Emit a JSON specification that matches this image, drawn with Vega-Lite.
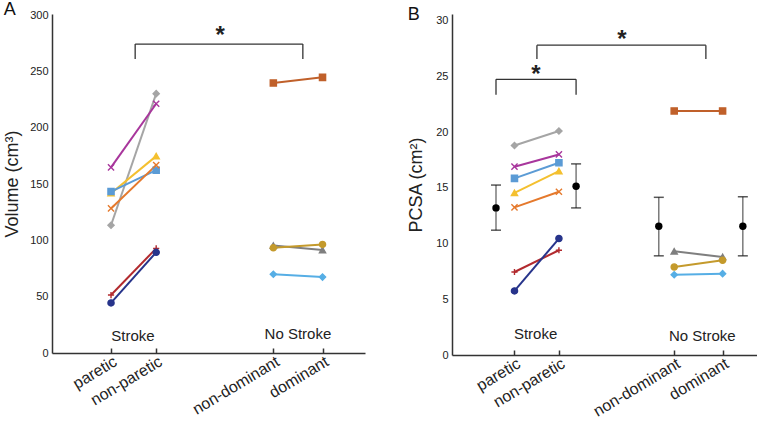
{
  "$schema": "https://vega.github.io/schema/vega-lite/v6.json",
  "padding": {"left": 3, "top": 1, "right": 0, "bottom": 0},
  "spacing": 42,
  "config": {
    "font": "Liberation Sans",
    "view": {"stroke": null},
    "axis": {"grid": false, "domainColor": "#333", "domainWidth": 1.5, "labelColor": "#222", "titleColor": "#222", "labelFont": "Liberation Sans", "titleFont": "Liberation Sans"},
    "title": {"font": "Liberation Sans", "fontWeight": "normal", "fontSize": 18, "color": "#111"}
  },
  "datasets": {
    "limbs": [
      {"limb": "paretic", "x": 1.32},
      {"limb": "non-paretic", "x": 2.33},
      {"limb": "non-dominant", "x": 4.95},
      {"limb": "dominant", "x": 6.05}
    ],
    "volume": [
      {"series": "S1", "limb": "paretic", "v": 113.5},
      {"series": "S1", "limb": "non-paretic", "v": 230.5},
      {"series": "S2", "limb": "paretic", "v": 165},
      {"series": "S2", "limb": "non-paretic", "v": 221.5},
      {"series": "S3", "limb": "paretic", "v": 142},
      {"series": "S3", "limb": "non-paretic", "v": 175},
      {"series": "S4", "limb": "paretic", "v": 143.5},
      {"series": "S4", "limb": "non-paretic", "v": 162.5},
      {"series": "S5", "limb": "paretic", "v": 128.5},
      {"series": "S5", "limb": "non-paretic", "v": 167},
      {"series": "S6", "limb": "paretic", "v": 51.5},
      {"series": "S6", "limb": "non-paretic", "v": 93},
      {"series": "S7", "limb": "paretic", "v": 44.5},
      {"series": "S7", "limb": "non-paretic", "v": 89.5},
      {"series": "C1", "limb": "non-dominant", "v": 240},
      {"series": "C1", "limb": "dominant", "v": 245},
      {"series": "C2", "limb": "non-dominant", "v": 95.5},
      {"series": "C2", "limb": "dominant", "v": 91.5},
      {"series": "C3", "limb": "non-dominant", "v": 93.5},
      {"series": "C3", "limb": "dominant", "v": 96.5},
      {"series": "C4", "limb": "non-dominant", "v": 70},
      {"series": "C4", "limb": "dominant", "v": 67.5}
    ],
    "pcsa": [
      {"series": "S1", "limb": "paretic", "v": 18.8},
      {"series": "S1", "limb": "non-paretic", "v": 20.1},
      {"series": "S2", "limb": "paretic", "v": 16.9},
      {"series": "S2", "limb": "non-paretic", "v": 18.0},
      {"series": "S3", "limb": "paretic", "v": 14.55},
      {"series": "S3", "limb": "non-paretic", "v": 16.5},
      {"series": "S4", "limb": "paretic", "v": 15.85},
      {"series": "S4", "limb": "non-paretic", "v": 17.25},
      {"series": "S5", "limb": "paretic", "v": 13.25},
      {"series": "S5", "limb": "non-paretic", "v": 14.65},
      {"series": "S6", "limb": "paretic", "v": 7.45},
      {"series": "S6", "limb": "non-paretic", "v": 9.4},
      {"series": "S7", "limb": "paretic", "v": 5.75},
      {"series": "S7", "limb": "non-paretic", "v": 10.45},
      {"series": "C1", "limb": "non-dominant", "v": 21.9},
      {"series": "C1", "limb": "dominant", "v": 21.9},
      {"series": "C2", "limb": "non-dominant", "v": 9.3},
      {"series": "C2", "limb": "dominant", "v": 8.8},
      {"series": "C3", "limb": "non-dominant", "v": 7.9},
      {"series": "C3", "limb": "dominant", "v": 8.5},
      {"series": "C4", "limb": "non-dominant", "v": 7.2},
      {"series": "C4", "limb": "dominant", "v": 7.3}
    ],
    "errB": [
      {"pos": 0.9, "mean": 13.2, "lo": 11.2, "hi": 15.25},
      {"pos": 2.72, "mean": 15.15, "lo": 13.2, "hi": 17.15},
      {"pos": 4.6, "mean": 11.55, "lo": 8.9, "hi": 14.15},
      {"pos": 6.51, "mean": 11.55, "lo": 8.9, "hi": 14.2}
    ],
    "bracketA": [
      {"x": 1.86, "x2": 5.61, "y": 274.6, "y2": 274.6},
      {"x": 1.86, "x2": 1.86, "y": 274.6, "y2": 261.3},
      {"x": 5.61, "x2": 5.61, "y": 274.6, "y2": 261.3}
    ],
    "bracketB": [
      {"x": 1.83, "x2": 5.67, "y": 27.8, "y2": 27.8},
      {"x": 1.83, "x2": 1.83, "y": 27.8, "y2": 26.56},
      {"x": 5.67, "x2": 5.67, "y": 27.8, "y2": 26.56},
      {"x": 0.9, "x2": 2.72, "y": 24.74, "y2": 24.74},
      {"x": 0.9, "x2": 0.9, "y": 24.74, "y2": 23.36},
      {"x": 2.72, "x2": 2.72, "y": 24.74, "y2": 23.36}
    ],
    "starsA": [{"x": 3.76, "y": 275.5, "t": "*"}],
    "starsB": [{"x": 3.76, "y": 27.65, "t": "*"}, {"x": 1.81, "y": 24.5, "t": "*"}],
    "groupsA": [{"x": 1.81, "y": 10.9, "t": "Stroke"}, {"x": 5.5, "y": 12.4, "t": "No Stroke"}],
    "groupsB": [{"x": 1.8, "y": 1.44, "t": "Stroke"}, {"x": 5.59, "y": 1.28, "t": "No Stroke"}]
  },
  "hconcat": [
    {
      "width": 313,
      "height": 339,
      "title": {"text": "A", "anchor": "start", "frame": "bounds", "offset": -10},
      "layer": [
        {
          "data": {"name": "volume"},
          "transform": [{"lookup": "limb", "from": {"data": {"name": "limbs"}, "key": "limb", "fields": ["x"]}}],
          "mark": {"type": "line", "strokeWidth": 2},
          "encoding": {
            "x": {"field": "x", "type": "quantitative", "scale": {"domain": [0, 7], "nice": false, "zero": false},
              "axis": {"title": null, "values": [1.32, 2.33, 4.95, 6.05], "labelExpr": "round(datum.value*100)==132 ? 'paretic' : round(datum.value*100)==233 ? 'non-paretic' : round(datum.value*100)==495 ? 'non-dominant' : 'dominant'",
                "labelOverlap": false, "labelFlush": false, "labelAngle": -31, "labelAlign": "right", "labelBaseline": "top", "labelFontSize": 16, "tickSize": -5, "tickColor": "#333", "tickWidth": 1.5, "labelPadding": 5}},
            "y": {"field": "v", "type": "quantitative", "scale": {"domain": [0, 301.3], "nice": false},
              "axis": {"title": "Volume (cm³)", "titleFontSize": 18, "titleFontWeight": "normal", "values": [0, 50, 100, 150, 200, 250, 300], "ticks": false, "labelFontSize": 11, "labelPadding": 4, "titlePadding": 8}},
            "color": {"field": "series", "type": "nominal", "legend": null,
              "scale": {"domain": ["S1","S2","S3","S4","S5","S6","S7","C1","C2","C3","C4"], "range": ["#a5a5a5","#a8369c","#f4c02f","#5b9bd5","#e5792c","#b22a2e","#27348b","#c0602a","#7f7f7f","#c49a2c","#56aee5"]}}
          }
        },
        {
          "data": {"name": "volume"},
          "transform": [{"lookup": "limb", "from": {"data": {"name": "limbs"}, "key": "limb", "fields": ["x"]}}],
          "mark": {"type": "point", "filled": true, "opacity": 1, "size": 38, "strokeWidth": 1.4},
          "encoding": {
            "x": {"field": "x", "type": "quantitative"},
            "y": {"field": "v", "type": "quantitative"},
            "color": {"field": "series", "type": "nominal", "legend": null},
            "stroke": {"field": "series", "type": "nominal", "legend": null,
              "scale": {"domain": ["S1","S2","S3","S4","S5","S6","S7","C1","C2","C3","C4"], "range": ["#a5a5a5","#a8369c","#f4c02f","#5b9bd5","#e5792c","#b22a2e","#27348b","#c0602a","#7f7f7f","#c49a2c","#56aee5"]}},
            "shape": {"field": "series", "type": "nominal", "legend": null,
              "scale": {"domain": ["S1","S2","S3","S4","S5","S6","S7","C1","C2","C3","C4"], "range": ["diamond","M-1,-1L1,1M-1,1L1,-1","triangle-up","square","M-1,-1L1,1M-1,1L1,-1","M-1,0L1,0M0,-1L0,1","circle","square","triangle-up","circle","diamond"]}}
          }
        },
        {
          "data": {"name": "bracketA"},
          "mark": {"type": "rule", "color": "#333", "strokeWidth": 1.3},
          "encoding": {"x": {"field": "x", "type": "quantitative"}, "x2": {"field": "x2"}, "y": {"field": "y", "type": "quantitative"}, "y2": {"field": "y2"}}
        },
        {
          "data": {"name": "starsA"},
          "mark": {"type": "text", "fontSize": 24, "fontWeight": "bold", "baseline": "alphabetic", "color": "#222"},
          "encoding": {"x": {"field": "x", "type": "quantitative"}, "y": {"field": "y", "type": "quantitative"}, "text": {"field": "t"}}
        },
        {
          "data": {"name": "groupsA"},
          "mark": {"type": "text", "fontSize": 15, "baseline": "alphabetic", "color": "#222"},
          "encoding": {"x": {"field": "x", "type": "quantitative"}, "y": {"field": "y", "type": "quantitative"}, "text": {"field": "t"}}
        }
      ]
    },
    {
      "width": 308,
      "height": 341,
      "title": {"text": "B", "anchor": "start", "frame": "bounds", "offset": -10},
      "layer": [
        {
          "data": {"name": "pcsa"},
          "transform": [{"lookup": "limb", "from": {"data": {"name": "limbs"}, "key": "limb", "fields": ["x"]}}],
          "mark": {"type": "line", "strokeWidth": 2},
          "encoding": {
            "x": {"field": "x", "type": "quantitative", "scale": {"domain": [-0.1, 6.9], "nice": false, "zero": false},
              "axis": {"title": null, "values": [1.32, 2.33, 4.95, 6.05], "labelExpr": "round(datum.value*100)==132 ? 'paretic' : round(datum.value*100)==233 ? 'non-paretic' : round(datum.value*100)==495 ? 'non-dominant' : 'dominant'",
                "labelOverlap": false, "labelFlush": false, "labelAngle": -31, "labelAlign": "right", "labelBaseline": "top", "labelFontSize": 16, "tickSize": -5, "tickColor": "#333", "tickWidth": 1.5, "labelPadding": 5}},
            "y": {"field": "v", "type": "quantitative", "scale": {"domain": [0, 30.6], "nice": false},
              "axis": {"title": "PCSA (cm²)", "titleFontSize": 18, "titleFontWeight": "normal", "values": [0, 5, 10, 15, 20, 25, 30], "ticks": false, "labelFontSize": 11, "labelPadding": 4, "titlePadding": 10}},
            "color": {"field": "series", "type": "nominal", "legend": null,
              "scale": {"domain": ["S1","S2","S3","S4","S5","S6","S7","C1","C2","C3","C4"], "range": ["#a5a5a5","#a8369c","#f4c02f","#5b9bd5","#e5792c","#b22a2e","#27348b","#c0602a","#7f7f7f","#c49a2c","#56aee5"]}}
          }
        },
        {
          "data": {"name": "pcsa"},
          "transform": [{"lookup": "limb", "from": {"data": {"name": "limbs"}, "key": "limb", "fields": ["x"]}}],
          "mark": {"type": "point", "filled": true, "opacity": 1, "size": 38, "strokeWidth": 1.4},
          "encoding": {
            "x": {"field": "x", "type": "quantitative"},
            "y": {"field": "v", "type": "quantitative"},
            "color": {"field": "series", "type": "nominal", "legend": null},
            "stroke": {"field": "series", "type": "nominal", "legend": null,
              "scale": {"domain": ["S1","S2","S3","S4","S5","S6","S7","C1","C2","C3","C4"], "range": ["#a5a5a5","#a8369c","#f4c02f","#5b9bd5","#e5792c","#b22a2e","#27348b","#c0602a","#7f7f7f","#c49a2c","#56aee5"]}},
            "shape": {"field": "series", "type": "nominal", "legend": null,
              "scale": {"domain": ["S1","S2","S3","S4","S5","S6","S7","C1","C2","C3","C4"], "range": ["diamond","M-1,-1L1,1M-1,1L1,-1","triangle-up","square","M-1,-1L1,1M-1,1L1,-1","M-1,0L1,0M0,-1L0,1","circle","square","triangle-up","circle","diamond"]}}
          }
        },
        {
          "data": {"name": "errB"},
          "mark": {"type": "rule", "color": "#666", "strokeWidth": 1.3},
          "encoding": {"x": {"field": "pos", "type": "quantitative"}, "y": {"field": "lo", "type": "quantitative"}, "y2": {"field": "hi"}}
        },
        {
          "data": {"name": "errB"},
          "mark": {"type": "tick", "orient": "horizontal", "color": "#111", "size": 10, "thickness": 1.5},
          "encoding": {"x": {"field": "pos", "type": "quantitative"}, "y": {"field": "lo", "type": "quantitative"}}
        },
        {
          "data": {"name": "errB"},
          "mark": {"type": "tick", "orient": "horizontal", "color": "#111", "size": 10, "thickness": 1.5},
          "encoding": {"x": {"field": "pos", "type": "quantitative"}, "y": {"field": "hi", "type": "quantitative"}}
        },
        {
          "data": {"name": "errB"},
          "mark": {"type": "point", "filled": true, "opacity": 1, "size": 55, "color": "#000"},
          "encoding": {"x": {"field": "pos", "type": "quantitative"}, "y": {"field": "mean", "type": "quantitative"}}
        },
        {
          "data": {"name": "bracketB"},
          "mark": {"type": "rule", "color": "#333", "strokeWidth": 1.3},
          "encoding": {"x": {"field": "x", "type": "quantitative"}, "x2": {"field": "x2"}, "y": {"field": "y", "type": "quantitative"}, "y2": {"field": "y2"}}
        },
        {
          "data": {"name": "starsB"},
          "mark": {"type": "text", "fontSize": 24, "fontWeight": "bold", "baseline": "alphabetic", "color": "#222"},
          "encoding": {"x": {"field": "x", "type": "quantitative"}, "y": {"field": "y", "type": "quantitative"}, "text": {"field": "t"}}
        },
        {
          "data": {"name": "groupsB"},
          "mark": {"type": "text", "fontSize": 15, "baseline": "alphabetic", "color": "#222"},
          "encoding": {"x": {"field": "x", "type": "quantitative"}, "y": {"field": "y", "type": "quantitative"}, "text": {"field": "t"}}
        }
      ]
    }
  ]
}
